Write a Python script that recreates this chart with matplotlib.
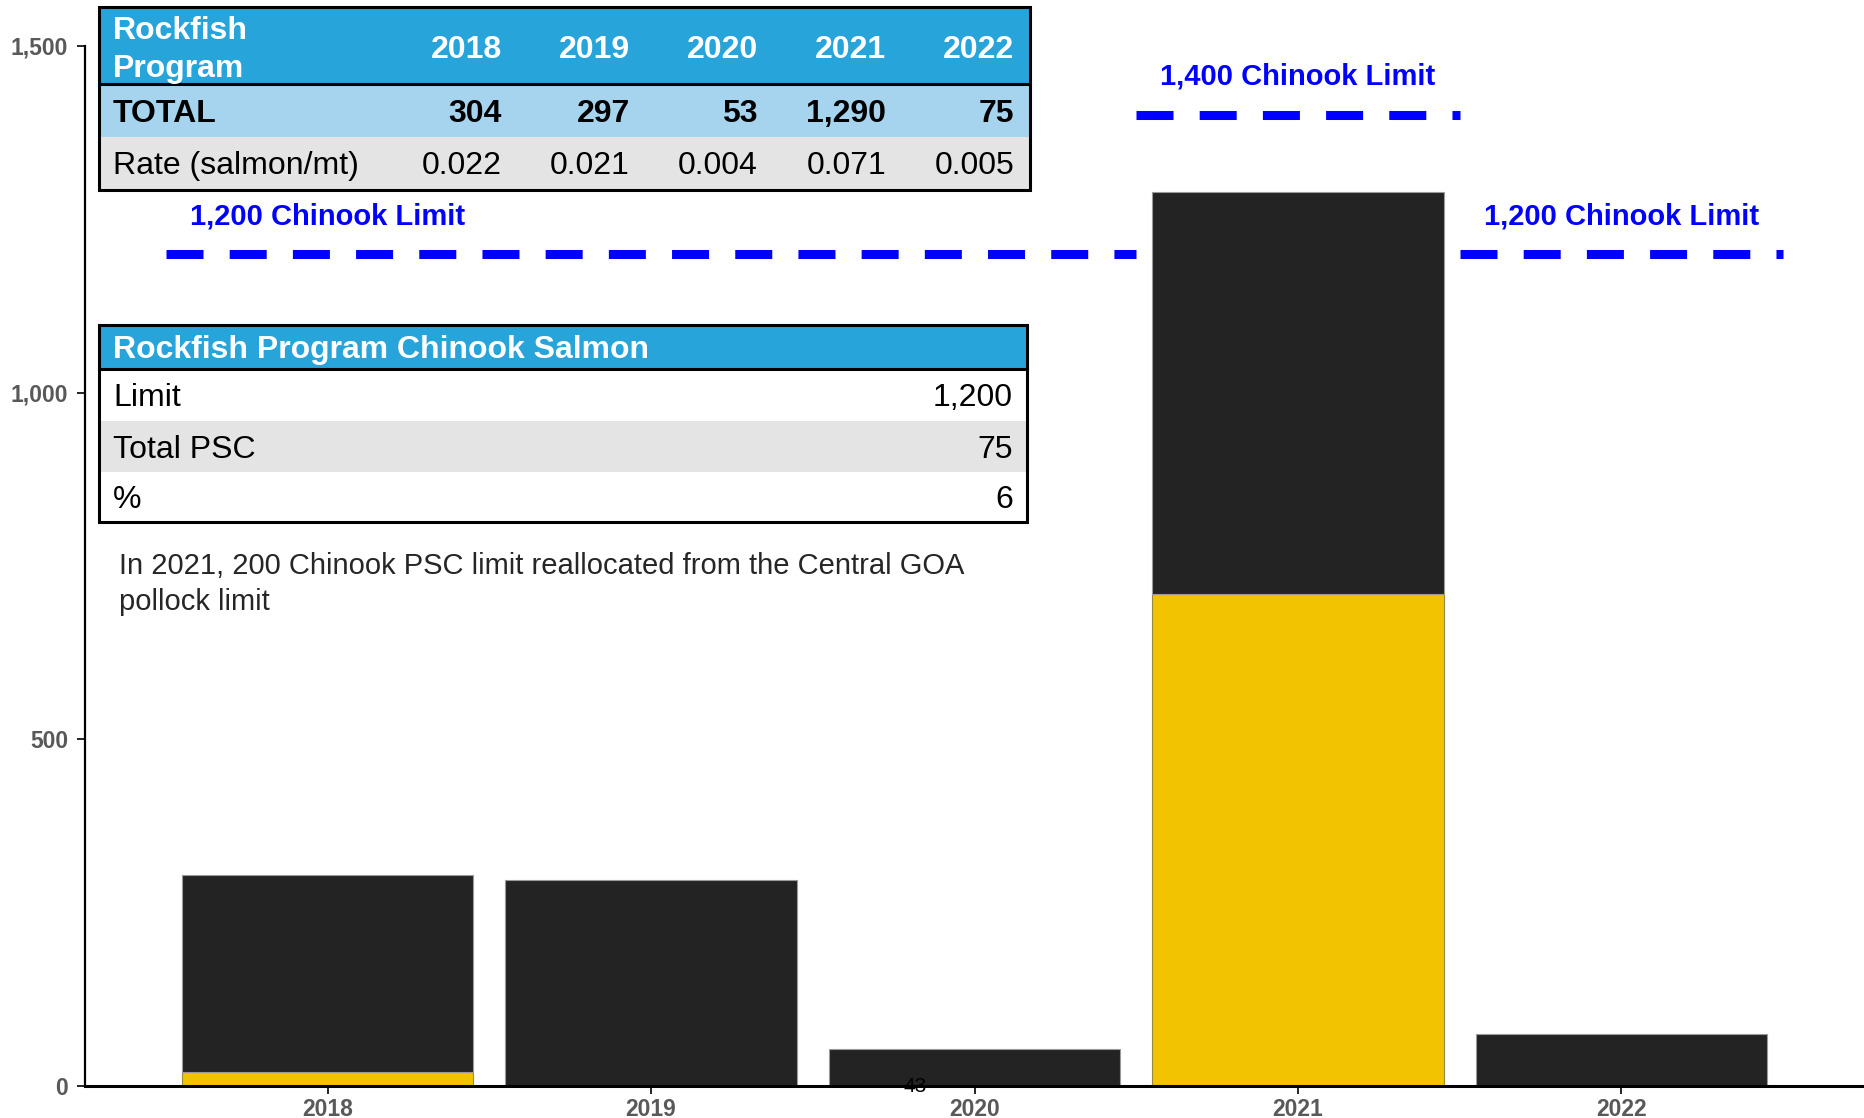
import matplotlib
matplotlib.use("Agg")
import matplotlib.pyplot as plt
from matplotlib.patches import Rectangle
from matplotlib.transforms import Affine2D
from matplotlib.ticker import FuncFormatter

plt.rcParams['font.family'] = ['Liberation Sans', 'DejaVu Sans']

# ---------------------------------------------------------------------------
# Data
# ---------------------------------------------------------------------------
years = ['2018', '2019', '2020', '2021', '2022']
chinook_total = [304, 297, 53, 1290, 75]
chinook_yellow = [20, 0, 0, 710, 0]
total_labels = ['304', '297', '53', '1,290', '75']
rate_labels = ['0.022', '0.021', '0.004', '0.071', '0.005']

# limit segments: (x start, x end, limit value)
limit_segments = [(-0.5, 2.5, 1200), (2.5, 3.5, 1400), (3.5, 4.5, 1200)]
limit_labels = [(0.0, 1254, '1,200 Chinook Limit'),
                (3.0, 1456, '1,400 Chinook Limit'),
                (4.0, 1254, '1,200 Chinook Limit')]

summary_rows = [('Limit', '1,200'), ('Total PSC', '75'), ('%', '6')]
footnote_lines = ['In 2021, 200 Chinook PSC limit reallocated from the Central GOA',
                  'pollock limit']

BLACK = '#232323'
YELLOW = '#F2C300'
HEAD_BLUE = '#27A4D9'
LIGHT_BLUE = '#A6D4EE'
LIGHT_GREY = '#E4E4E4'
LIMIT_BLUE = '#0000FF'
TICK_GREY = '#595959'
TXT = 23

W, H = 1864, 1118
fig = plt.figure(figsize=(W / 100, H / 100), dpi=100)
ax = fig.add_axes([85 / W, 1 - 1086 / H, 1 - 85 / W, (1086 - 46) / H])

# ---------------------------------------------------------------------------
# Bars
# ---------------------------------------------------------------------------
x = list(range(len(years)))
black_part = [t - y for t, y in zip(chinook_total, chinook_yellow)]
ax.bar(x, chinook_yellow, width=0.9, color=YELLOW, edgecolor='#9a8a40',
       linewidth=0.8, zorder=2)
ax.bar(x, black_part, bottom=chinook_yellow, width=0.9, color=BLACK,
       edgecolor='#9a9a9a', linewidth=0.8, zorder=2)

for x0, x1, lim in limit_segments:
    ax.plot([x0, x1], [lim, lim], color=LIMIT_BLUE, linewidth=6.5,
            dashes=(4.1, 2.9), solid_capstyle='butt', dash_capstyle='butt',
            zorder=3)
for lx, ly, txt in limit_labels:
    ax.text(lx, ly, txt, color=LIMIT_BLUE, fontsize=21, fontweight='bold',
            ha='center', va='center', zorder=4)

ax.text(1.815, 0, '43', fontsize=15, color='black', ha='center',
        va='center', zorder=4)

ax.set_xlim(-0.75, 4.75)
ax.set_ylim(0, 1500)
ax.set_yticks([0, 500, 1000, 1500])
ax.yaxis.set_major_formatter(FuncFormatter(lambda v, p: f'{v:,.0f}'))
ax.set_xticks(x)
ax.set_xticklabels(years)
for lab in ax.get_xticklabels() + ax.get_yticklabels():
    lab.set_fontweight('bold')
    lab.set_color(TICK_GREY)
    lab.set_fontsize(16.5)
ax.tick_params(axis='y', length=6, width=1.2, pad=6)
ax.tick_params(axis='x', length=6, width=1.2, pad=3)
for side in ('top', 'right'):
    ax.spines[side].set_visible(False)
ax.spines['left'].set_linewidth(1.6)
ax.spines['bottom'].set_linewidth(2.2)

# ---------------------------------------------------------------------------
# Tables, drawn in figure pixel space (origin top-left)
# ---------------------------------------------------------------------------
px = Affine2D().scale(1 / W, -1 / H).translate(0, 1) + fig.transFigure


def cell(x0, y0, x1, y1, color):
    fig.add_artist(Rectangle((x0, y0), x1 - x0, y1 - y0, transform=px,
                             facecolor=color, edgecolor='none', zorder=5))


def hline(x0, x1, y, lw=2.2):
    fig.add_artist(plt.Line2D([x0, x1], [y, y], transform=px, color='black',
                              linewidth=lw, zorder=7))


def box(x0, y0, x1, y1, lw=2.2):
    fig.add_artist(Rectangle((x0, y0), x1 - x0, y1 - y0, transform=px,
                             facecolor='none', edgecolor='black',
                             linewidth=lw, zorder=7))


def put(xp, yp, s, ha='left', **kw):
    fig.text(xp, yp, s, transform=px, ha=ha, va='center', zorder=8, **kw)


# yearly summary table
cell(99, 7, 1030, 84, HEAD_BLUE)
cell(99, 84, 1030, 137, LIGHT_BLUE)
cell(99, 137, 1030, 190, LIGHT_GREY)
hline(99, 1030, 84)
box(99, 7, 1030, 190)

put(113, 31, 'Rockfish', color='white', fontsize=TXT, fontweight='bold')
put(113, 69, 'Program', color='white', fontsize=TXT, fontweight='bold')
put(113, 114, 'TOTAL', color='black', fontsize=TXT, fontweight='bold')
put(113, 166, 'Rate (salmon/mt)', color='black', fontsize=TXT)
col_right = [502, 630, 758, 886, 1014]
for xr, yr, tot, rate in zip(col_right, years, total_labels, rate_labels):
    put(xr, 50, yr, ha='right', color='white', fontsize=TXT,
        fontweight='bold')
    put(xr, 114, tot, ha='right', color='black', fontsize=TXT,
        fontweight='bold')
    put(xr, 166, rate, ha='right', color='black', fontsize=TXT)

# current-year limit table
cell(99, 325, 1027, 369, HEAD_BLUE)
row_tops = [369, 421, 472, 522]
row_colors = ['white', LIGHT_GREY, 'white']
for (label, val), top, bot, col in zip(summary_rows, row_tops[:-1],
                                       row_tops[1:], row_colors):
    cell(99, top, 1027, bot, col)
    put(113, (top + bot) / 2 + 3, label, color='black', fontsize=TXT)
    put(1013, (top + bot) / 2 + 3, val, ha='right', color='black',
        fontsize=TXT)
hline(99, 1027, 369)
box(99, 325, 1027, 522)
put(113, 350, 'Rockfish Program Chinook Salmon', color='white',
    fontsize=TXT, fontweight='bold')

for yp, line in zip([566, 602], footnote_lines):
    put(119, yp, line, color='#262626', fontsize=21)

fig.savefig('out.png', dpi=100)
